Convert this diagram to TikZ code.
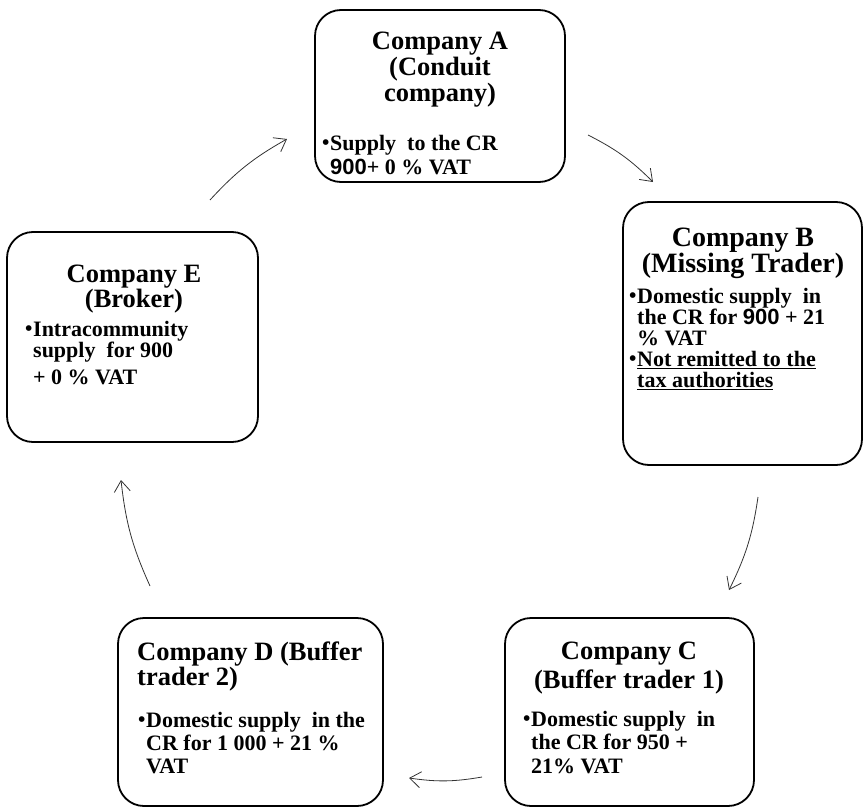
\documentclass[tikz,border=0pt]{standalone}
\usepackage{fontspec}
\setmainfont{Liberation Serif}
\newfontfamily\numfont{Liberation Sans}
\usetikzlibrary{arrows.meta}

\newcommand{\bul}{\makebox[8pt][l]{\fontsize{21}{21}\selectfont\raisebox{0.3pt}{\textbullet}}}
\newcommand{\nine}{{\numfont 900}}

\begin{document}
\begin{tikzpicture}[
        x=1pt, y=-1pt, % Координаты как в пикселях, y вниз
        firm/.style={draw, line width=1.8pt, rounded corners=26pt, inner sep=0pt},
        title/.style={inner sep=0pt, anchor=base, font=\bfseries\fontsize{#1}{25}\selectfont},
        title/.default=26.5,
        body/.style={inner sep=0pt, anchor=base west, font=\bfseries\fontsize{22}{#1}\selectfont},
        body/.default=22,
        flow/.style={draw=black!80, line width=0.8pt, bend left=9,
            -{Straight Barb[length=11pt, width=16pt]}},
    ]
    \useasboundingbox (0,0) rectangle (864,808);

    % Компании
    \node[firm, minimum width=250pt, minimum height=172pt] (A) at (440,96) {};
    \node[firm, minimum width=239pt, minimum height=263pt] (B) at (742.5,333.5) {};
    \node[firm, minimum width=249pt, minimum height=188pt] (C) at (629.5,712) {};
    \node[firm, minimum width=265pt, minimum height=188pt] (D) at (250.5,712) {};
    \node[firm, minimum width=251pt, minimum height=210pt] (E) at (132.5,337) {};

    % Тексты
    \node[title] (Atitle) at (440,50) {\begin{tabular}[t]{@{}c@{}}Company A\\(Conduit\\company)\end{tabular}};
    \node[body=24] (Abody) at (322,150) {\begin{tabular}[t]{@{}l@{}l@{}}\bul & Supply\ \ to the CR\\ & \nine+ 0 \% VAT\end{tabular}};

    \node[title=28] (Btitle) at (743,246) {\begin{tabular}[t]{@{}c@{}}Company B\\(Missing Trader)\end{tabular}};
    \node[body=19.8] (Bbody) at (629,303) {\begin{tabular}[t]{@{}l@{}l@{}}\bul & Domestic supply\ \ in\\ & the CR for \nine\ + 21\\ & \% VAT\\
            \bul & \underline{Not remitted to the}\\ & \underline{tax authorities}\end{tabular}};

    \node[title] (Ctitle) at (629,659) {\begin{tabular}[t]{@{}c@{}}Company C\\[3pt](Buffer trader 1)\end{tabular}};
    \node[body=23.5] (Cbody) at (523,726) {\begin{tabular}[t]{@{}l@{}l@{}}\bul & Domestic supply\ \ in\\ & the CR for 950 +\\ & 21\% VAT\end{tabular}};

    \node[title, anchor=base west] (Dtitle) at (137,660) {\begin{tabular}[t]{@{}l@{}}Company D (Buffer\\trader 2)\end{tabular}};
    \node[body=23] (Dbody) at (138,727) {\begin{tabular}[t]{@{}l@{}l@{}}\bul & Domestic supply\ \ in the\\ & CR for 1 000 + 21 \%\\ & VAT\end{tabular}};

    \node[title] (Etitle) at (134,282) {\begin{tabular}[t]{@{}c@{}}Company E\\(Broker)\end{tabular}};
    \node[body=21] (Ebody) at (25,336) {\begin{tabular}[t]{@{}l@{}l@{}}\bul & Intracommunity\\ & supply\ \ for 900\\[6pt] & + 0 \% VAT\end{tabular}};

    % Стрелки по кругу
    \coordinate (ea1) at (210,200); \coordinate (ea2) at (287,139);
    \coordinate (ab1) at (588,135); \coordinate (ab2) at (653,182);
    \coordinate (bc1) at (758,497); \coordinate (bc2) at (729,590);
    \coordinate (cd1) at (482,777); \coordinate (cd2) at (409,778);
    \coordinate (de1) at (150,586); \coordinate (de2) at (121,480);

    \draw[flow] (ea1) to (ea2);
    \draw[flow] (ab1) to (ab2);
    \draw[flow] (bc1) to (bc2);
    \draw[flow] (cd1) to (cd2);
    \draw[flow] (de1) to (de2);
\end{tikzpicture}
\end{document}
